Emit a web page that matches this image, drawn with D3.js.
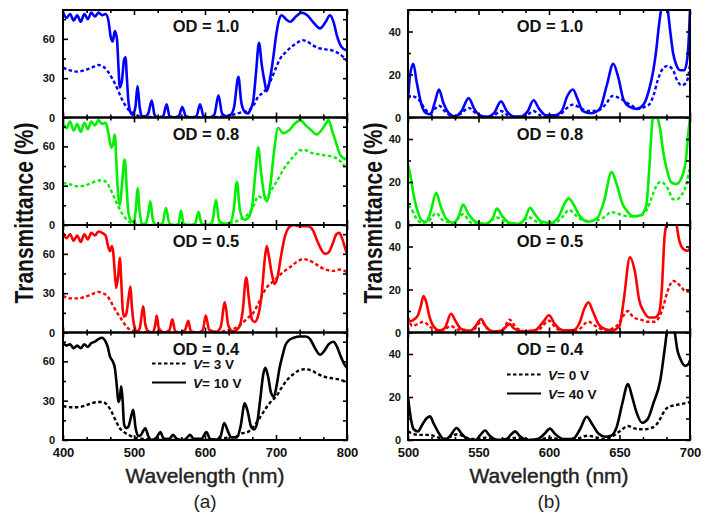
<!DOCTYPE html>
<html>
<head>
<meta charset="utf-8">
<script src="https://cdn.jsdelivr.net/npm/d3@7"></script>
<style>
  body { margin: 0; background: #fff; }
  text { font-family: "Liberation Sans", Arial, sans-serif; }
</style>
</head>
<body>
<svg id="chart" width="702" height="514"></svg>
<script>
// ---- data: [wavelength nm, transmittance %] ----
// panel (a), 400-800 nm
const a10Dash = [[400,38],[410,36],[420,35],[430,36],[440,38],[450,40],[456,39],[462,36],[468,31],[473,26],[478,20],[483,14],[488,9],[494,5],[500,3],[508,1],[520,0.5],[540,0],[560,0],[580,0],[600,0],[620,0.5],[635,1.5],[645,3],[652,4],[660,5],[668,9],[675,16],[682,19],[688,23],[694,30],[700,38],[706,45],[714,50],[722,54],[730,57],[737,59],[744,58],[752,55],[760,53],[770,52],[780,51],[788,49],[795,46],[800,43]];
const a10Solid = [[400,80],[405,76],[410,79],[415,74],[420,78],[425,73],[430,79],[435,75],[440,80],[445,77],[450,80],[455,78],[460,79],[464,74],[467,62],[470,58],[473,66],[476,60],[478,40],[480,23],[483,28],[486,44],[488,46],[490,30],[492,13],[495,4],[498,2],[502,8],[505,24],[508,8],[511,1],[516,1],[520,3],[525,13],[529,2],[534,0],[541,1],[546,10],[550,1],[556,0],[563,1],[568,8],[573,1],[580,0],[588,1],[593,10],[598,1],[605,0],[613,2],[619,17],[624,3],[630,1],[636,2],[641,8],[647,31],[651,12],[655,5],[660,3],[664,6],[668,13],[672,35],[676,57],[680,40],[684,27],[687,20],[691,28],[696,45],[700,62],[704,74],[708,78],[714,75],[720,73],[728,77],[736,80],[744,78],[752,73],[762,68],[770,73],[776,78],[781,73],[786,62],[792,54],[800,51]];
const a08Dash = [[400,32],[410,31],[420,29.5],[430,30],[440,32],[450,34],[456,34],[462,32],[468,26],[473,20],[478,14],[484,8],[490,4],[496,1.5],[505,0.5],[520,0],[540,0],[560,0],[580,0],[600,0],[620,0.5],[635,1.5],[645,3],[652,5],[660,8],[668,14],[675,22],[682,20],[688,22],[695,28],[702,34],[710,42],[718,48],[726,53],[734,57],[742,57],[750,55],[760,54],[770,53],[780,52],[788,50],[795,46],[800,42]];
const a08Solid = [[400,78],[405,74],[410,79],[415,72],[420,77],[425,71],[430,78],[435,73],[440,79],[445,76],[450,80],[455,77],[460,78],[464,70],[468,59],[471,63],[473,69],[475,50],[477,28],[480,15],[483,30],[486,48],[487,50],[490,25],[492,10],[496,3],[500,2],[503,15],[505,28],[508,10],[511,1],[516,1],[520,8],[523,18],[527,3],[532,0],[540,1],[545,13],[550,1],[558,0],[563,1],[566,11],[570,1],[578,0],[586,1],[591,10],[595,1],[603,0],[610,2],[615.5,19],[620,3],[628,1],[636,2],[640,10],[645,33],[649,12],[655,4],[660,5],[666,13],[671,40],[675,59],[679,40],[683,24],[687,18],[692,30],[697,55],[703,74],[710,70],[718,72],[726,77],[734,80],[742,76],[750,72],[757,69],[765,73],[771,78],[774,80],[779,72],[785,62],[790,54],[795,51],[800,50]];
const a05Dash = [[400,28],[410,26],[420,26],[430,27],[440,29],[450,31],[456,30],[462,28],[468,23],[474,17],[480,12],[486,7],[492,3],[498,1.5],[505,0.5],[520,0],[540,0],[560,0],[580,0],[600,0],[620,0.5],[635,2],[645,4],[652,7],[660,11],[668,15],[675,22],[682,30],[688,35],[694,38],[700,41],[710,46],[720,50],[730,54],[738,56],[746,55],[754,53],[762,50],[770,48],[780,47],[790,48],[800,46]];
const a05Solid = [[400,76],[405,72],[410,75],[415,70],[420,74],[425,69],[430,75],[435,71],[440,76],[445,74],[450,77],[455,76],[460,74],[463,67],[466,62],[469,66],[471,60],[473,45],[475,34],[478,45],[480,57],[482,40],[484,18],[486,12],[489,14],[492,25],[495,35],[497,20],[500,6],[504,1],[508,3],[511,14],[513,20],[516,6],[520,1],[526,0],[530,6],[532,13],[535,3],[542,0],[550,2],[554,10],[558,1],[566,0],[572,2],[576.5,9],[580,1],[590,0],[597,2],[601,13],[606,2],[615,0.5],[622,4],[628,23],[633,5],[640,1],[648,4],[653,16],[658,42],[662,25],[666,10],[670,8],[675,13],[680,30],[684,55],[687,66],[690,58],[694,45],[698,37],[702,42],[707,58],[712,72],[718,80],[725,82],[735,81],[745,81],[752,78],[758,70],[764,63],[769,60],[774,61],[780,68],[785,75],[789,76],[793,72],[797,65],[800,60]];
const a04Dash = [[400,26],[410,25],[420,25],[430,26],[440,28],[450,29],[456,29],[462,27],[468,22],[474,15],[480,9],[486,6],[492,4],[500,2],[510,1],[520,0.5],[540,0],[560,0],[580,0],[600,0],[620,1],[635,2],[645,3],[652,5],[660,6],[668,10],[676,16],[682,21],[688,26],[694,30],[700,33],[708,40],[716,46],[724,50],[732,53],[740,54],[750,53],[760,50],[770,48],[780,47],[790,46],[800,44]];
const a04Solid = [[400,74],[405,72],[410,73],[415,70],[420,72],[425,70],[430,73],[435,71],[440,74],[445,75],[450,77],[455,78],[460,75],[463,71],[466,64],[470,60],[473,55],[476,40],[478,29],[480,32],[482,41],[484,30],[486,12],[489,9],[492,10],[496,18],[499,23],[502,10],[506,3],[510,4],[513,7],[516,9],[520,3],[525,0],[532,2],[537,6],[542,1],[550,1],[555,4],[560,1],[570,0],[575,2],[579,4],[584,1],[595,1],[602,6],[607,1],[615,0],[622,3],[627,13],[632,7],[637,2],[645,2],[650,10],[656,28],[660,22],[665,10],[669,8],[673,12],[678,32],[682,50],[685,55],[689,48],[693,36],[697,33],[701,42],[705,55],[709,64],[713,72],[718,76],[725,78],[734,79],[742,79],[748,77],[755,70],[762,65],[768,68],[774,73],[781,75],[786,71],[791,64],[796,58],[800,55]];

// panel (b), 500-700 nm
const b10Dash = [[500,9],[502,10],[505,9.5],[508,8],[512,4],[516,2],[519,4],[522,5.5],[526,3],[532,0.5],[538,2],[543,4.5],[548,2],[555,0.3],[561,1],[566,3],[571,1],[578,0.3],[584,1],[589,3],[594,1],[600,0.5],[607,1],[612,4],[617,6],[622,4.5],[628,3],[634,3],[640,6],[645,10],[650,9],[655,7],[660,5],[665,4],[668,5],[671,6],[674,10],[677,17],[680,22],[684,24],[688,22],[691,17],[694,15],[697,16],[699,20],[700,25]];
const b10Solid = [[500,8],[501.5,20],[503.8,25],[506,17],[510,5],[513,2],[516,1.5],[519,7],[522,13],[525,7],[529,2],[533,0.5],[538,3],[543,9],[547,4],[551,1],[556,0.3],[561,2],[566,7.5],[570,3],[575,0.5],[580,0.5],[585,3],[589,8],[593,4],[598,1],[604,1],[609,3],[613,10],[617,13],[620,9],[624,3],[630,2],[636,4],[641,15],[645.6,25],[649,19],[653,8],[657,5],[662,4],[667,6],[671,13],[674,22],[676,31],[678,43],[680,52],[682,55],[684,51],[686,40],[688,30],[690,25],[693,22],[696,22],[698,27],[699,35],[700,50]];
const b08Dash = [[500,9],[502,8],[505,4],[510,1],[515,2],[520,5.5],[525,2],[532,1],[539,5],[545,1],[555,0.5],[563,3.5],[570,1],[578,0.5],[586,3.5],[593,1],[602,0.5],[610,4],[614,7],[620,4],[625,2],[632,2],[640,4],[644,6],[650,5],[656,4],[662,4],[667,5],[670,8],[673,13],[676,18],[679,20],[682,19],[685,16],[688,12],[691,12],[694,14],[697,18],[699,24],[700,27]];
const b08Solid = [[500,28],[502,22],[504,14],[507,6],[510,2],[513,1.5],[516,6],[520,15],[523,9],[527,3],[532,1],[536,4],[539,9.5],[543,5],[548,1.5],[555,0.5],[560,3],[563,7.6],[567,4],[572,1],[578,0.5],[583,3],[586.5,8],[590,5],[595,1.5],[601,1],[607,4],[611,10],[614,12.4],[617,10],[622,4],[628,1.5],[634,3],[639,11],[644.4,24.6],[648,19],[652,10],[656,6],[660,4],[665,4.5],[669,9],[671,25],[673,46],[675,53],[677,50],[679,44],[681,34],[683.5,26],[686.5,20],[690,19],[694,22],[697,30],[699,44],[700,50]];
const b05Dash = [[500,7],[503,3],[507,4],[511,5],[515,3],[520,1],[525,1],[530,3],[535,1.5],[540,0.5],[546,1],[552,5],[556,2],[562,0.5],[567,1],[572,6],[577,2],[584,0.5],[592,1],[600,5.5],[605,2],[612,0.5],[620,1],[628,5],[633,3],[640,1],[648,3],[653,8],[656,10],[660,7],[665,6],[670,5],[675,5],[678,7],[681,12],[684,19],[688,24],[691,23],[694,21],[697,19],[700,19]];
const b05Solid = [[500,5],[503,5.5],[507,8],[509,12],[511,17],[513,14],[515,8],[518,3],[522,1],[526,2],[530.5,8.7],[534,5],[538,1.5],[544,0.8],[548,3],[551.8,6.3],[555,3],[560,0.5],[566,0.8],[570,3],[572,4],[575,2],[581,0.5],[590,1],[596,5],[600,8],[604,4],[610,1],[617,1],[622,5],[625,11],[628,14],[631,10],[635,4],[640,1.5],[645,1],[650,3],[653,15],[657.4,35],[661,28],[664,15],[667,10],[671,7],[675,7],[678,9],[680,20],[682,45],[684,52],[687,57],[690,52],[692,44],[695,39],[698,38],[700,39]];
const b04Dash = [[500,4],[503,3],[507,2.4],[511,2.4],[515,2.4],[520,1.5],[525,0.5],[530,1.5],[535,2.7],[540,1.5],[545,0.5],[550,0.5],[555,1.1],[560,0.5],[565,0],[570,0.5],[576,1],[582,0.5],[590,0],[600,1],[607,0.5],[615,0],[622,1],[627,2],[632,1.5],[638,0.5],[643,1],[648,3],[652,5],[656,6.5],[660,5.5],[664,5],[668,5],[672,5.5],[676,7],[679,10],[682,13.7],[685,15.5],[688,16],[692,16.5],[696,17],[700,17.7]];
const b04Solid = [[500,20],[502,10],[504,5],[507,4],[510,7],[513,10],[515.6,11],[518,8],[522,3],[526,0],[530,2],[534.5,5.6],[538,3],[542,0.5],[548,0],[551,2],[554.6,4.4],[558,2],[563,0],[570,0.5],[573,2.5],[576,4],[579,2],[585,0],[592,0.5],[597,3],[600.7,5.3],[604,3],[610,0.5],[617,0.5],[622,5],[626.7,10.8],[631,7],[635,3],[640,1.5],[644,2],[648,6],[652,17],[656,26],[659,20],[662,13],[666,8],[670,9.7],[674,17],[679,28],[682,42],[684,52],[687,57],[689,51],[691,42],[693,38],[696.5,34.5],[698.5,35],[700,37]];

const odLabels = ["OD = 1.0", "OD = 0.8", "OD = 0.5", "OD = 0.4"];
const rowColors = ["#0000ff", "#00f000", "#ff0000", "#000000"];
const xTicksA = [400, 500, 600, 700, 800];
const xTicksB = [500, 550, 600, 650, 700];
const yTicksA = [0, 30, 60];
const yTicksB = [0, 20, 40];
const legendA = ["3 V", "10 V"];
const legendB = ["0 V", "40 V"];

// ---- layout ----
const svg = d3.select("#chart");
const plotTop = 10, rowH = 107.5, nRows = 4;

const panels = [
  { key: "a", left: 63, right: 347, xDomain: [400, 800], xTicks: xTicksA, xMinor: 3,
    yDomain: [0, 82], yTicks: yTicksA, yMinor: [15, 45, 75], labelPad: 8,
    rows: [[a10Dash, a10Solid], [a08Dash, a08Solid], [a05Dash, a05Solid], [a04Dash, a04Solid]],
    legend: legendA, titleX: 33, legX: 152, legDy: 0 },
  { key: "b", left: 408, right: 690, xDomain: [500, 700], xTicks: xTicksB, xMinor: 3,
    yDomain: [0, 50], yTicks: yTicksB, yMinor: [10, 30], labelPad: 7,
    rows: [[b10Dash, b10Solid], [b08Dash, b08Solid], [b05Dash, b05Solid], [b04Dash, b04Solid]],
    legend: legendB, titleX: 382, legX: 507, legDy: 11 }
];

function minorTicks(ticks, n) {
  const out = [];
  for (let i = 0; i < ticks.length - 1; i++) {
    const step = (ticks[i + 1] - ticks[i]) / n;
    for (let k = 1; k < n; k++) out.push(ticks[i] + k * step);
  }
  return out;
}

function styleAxis(g, fontSize) {
  g.select(".domain").remove();
  g.selectAll(".tick line").attr("stroke", "#000").attr("stroke-width", 1.6);
  g.selectAll(".tick text")
    .attr("font-family", "DejaVu Sans, sans-serif")
    .attr("font-weight", "bold")
    .attr("font-size", fontSize)
    .attr("fill", "#111");
}

panels.forEach(p => {
  const x = d3.scaleLinear().domain(p.xDomain).range([p.left, p.right]);
  const xMinorVals = minorTicks(p.xTicks, p.xMinor);
  const cx = (p.left + p.right) / 2;

  p.rows.forEach((pair, i) => {
    const top = plotTop + i * rowH, bot = top + rowH;
    const y = d3.scaleLinear().domain(p.yDomain).range([bot, top]);
    const g = svg.append("g");
    const clipId = "clip-" + p.key + i;
    svg.append("clipPath").attr("id", clipId)
      .append("rect").attr("x", p.left).attr("y", top)
      .attr("width", p.right - p.left).attr("height", rowH);

    const line = d3.line().x(d => x(d[0])).y(d => y(d[1])).curve(d3.curveMonotoneX);
    const curves = g.append("g").attr("clip-path", "url(#" + clipId + ")");
    curves.append("path").datum(pair[0]).attr("d", line)
      .attr("fill", "none").attr("stroke", rowColors[i]).attr("stroke-width", 2.4)
      .attr("stroke-dasharray", "3.5,2.5");
    curves.append("path").datum(pair[1]).attr("d", line)
      .attr("fill", "none").attr("stroke", rowColors[i]).attr("stroke-width", 2.6)
      .attr("stroke-linejoin", "round");

    // y axes: labels on the left, bare ticks on the right
    const yl = g.append("g").attr("transform", `translate(${p.left},0)`)
      .call(d3.axisLeft(y).tickValues(p.yTicks).tickSize(-5).tickPadding(p.labelPad).tickFormat(d3.format("d")));
    styleAxis(yl, 11);
    const ylm = g.append("g").attr("transform", `translate(${p.left},0)`)
      .call(d3.axisLeft(y).tickValues(p.yMinor).tickSize(-3).tickFormat(""));
    styleAxis(ylm, 11);
    const yr = g.append("g").attr("transform", `translate(${p.right},0)`)
      .call(d3.axisRight(y).tickValues(p.yTicks.concat(p.yMinor)).tickSize(-4).tickFormat(""));
    styleAxis(yr, 11);

    // x axes on top and bottom, numbers only under the last row
    const last = i === nRows - 1;
    const xb = g.append("g").attr("transform", `translate(0,${bot})`)
      .call(d3.axisBottom(x).tickValues(p.xTicks).tickSize(-5).tickPadding(8)
        .tickFormat(last ? d3.format("d") : ""));
    styleAxis(xb, 13);
    const xbm = g.append("g").attr("transform", `translate(0,${bot})`)
      .call(d3.axisBottom(x).tickValues(xMinorVals).tickSize(-3).tickFormat(""));
    styleAxis(xbm, 13);
    const xt = g.append("g").attr("transform", `translate(0,${top})`)
      .call(d3.axisTop(x).tickValues(p.xTicks).tickSize(-5).tickFormat(""));
    styleAxis(xt, 13);
    const xtm = g.append("g").attr("transform", `translate(0,${top})`)
      .call(d3.axisTop(x).tickValues(xMinorVals).tickSize(-3).tickFormat(""));
    styleAxis(xtm, 13);

    g.append("rect").attr("x", p.left).attr("y", top)
      .attr("width", p.right - p.left).attr("height", rowH)
      .attr("fill", "none").attr("stroke", "#000").attr("stroke-width", 2);

    g.append("text").attr("x", cx + 1).attr("y", top + 22)
      .attr("text-anchor", "middle").attr("font-weight", "bold")
      .attr("font-size", 16.5).attr("fill", "#111").text(odLabels[i]);

    if (last) {
      p.legend.forEach((lab, k) => {
        const ly = top + (k === 0 ? 31 : 50) + p.legDy;
        g.append("line").attr("x1", p.legX).attr("x2", p.legX + 34)
          .attr("y1", ly).attr("y2", ly)
          .attr("stroke", "#000").attr("stroke-width", 2.2)
          .attr("stroke-dasharray", k === 0 ? "3.5,2.5" : null);
        const t = g.append("text").attr("x", p.legX + 41).attr("y", ly + 5)
          .attr("font-family", "DejaVu Sans, sans-serif").attr("font-weight", "bold")
          .attr("font-size", 13.5).attr("fill", "#111");
        t.append("tspan").attr("font-style", "italic").text("V");
        t.append("tspan").text("= " + lab);
      });
    }
  });

  svg.append("text")
    .attr("transform", `translate(${p.titleX},213) rotate(-90) scale(1,1.2)`)
    .attr("text-anchor", "middle").attr("font-weight", "bold")
    .attr("font-size", 21).attr("fill", "#111").text("Transmittance (%)");
  svg.append("text").attr("x", cx).attr("y", 483)
    .attr("text-anchor", "middle").attr("font-size", 21)
    .attr("fill", "#222").attr("stroke", "#222").attr("stroke-width", 0.4)
    .text("Wavelength (nm)");
  svg.append("text").attr("x", cx).attr("y", 508)
    .attr("text-anchor", "middle").attr("font-size", 19).attr("fill", "#222")
    .text("(" + p.key + ")");
});
</script>
</body>
</html>
